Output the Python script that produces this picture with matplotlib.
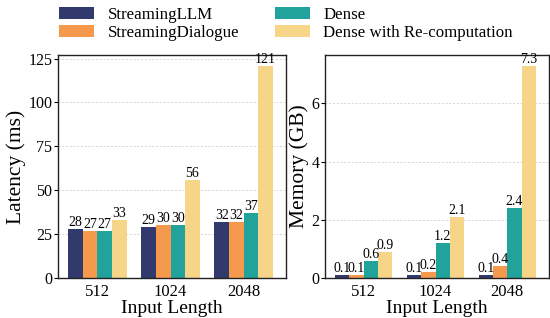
import numpy as np
import matplotlib
matplotlib.use("Agg")
import matplotlib.pyplot as plt

plt.rcParams['font.family'] = ['Liberation Serif', 'DejaVu Serif']

# data
input_lengths = ['512', '1024', '2048']
methods = ['StreamingLLM', 'StreamingDialogue', 'Dense', 'Dense with Re-computation']
colors = ['#323a6d', '#f5994d', '#21a29b', '#f6d488']

latency = [
    [28, 29, 32],    # StreamingLLM
    [27, 30, 32],    # StreamingDialogue
    [27, 30, 37],    # Dense
    [33, 56, 121],   # Dense with Re-computation
]
memory = [
    [0.1, 0.1, 0.1],
    [0.1, 0.2, 0.4],
    [0.6, 1.2, 2.4],
    [0.9, 2.1, 7.3],
]

latency_ticks = [0, 25, 50, 75, 100, 125]
memory_ticks = [0, 2, 4, 6]

fig = plt.figure(figsize=(5.5, 3.18), dpi=100)
ax1 = fig.add_axes([0.1055, 0.1258, 0.4145, 0.7012])
ax2 = fig.add_axes([0.591, 0.1258, 0.407, 0.7012])

x = np.arange(len(input_lengths))
width = 0.2


def draw_panel(ax, values, ylabel, fmt, yticks):
    for i, (name, vals) in enumerate(zip(methods, values)):
        bars = ax.bar(x + i * width, vals, width, color=colors[i], label=name, zorder=2)
        ax.bar_label(bars, labels=[fmt.format(v) for v in vals], padding=0, fontsize=10)
    ax.set_xticks(x + 1.5 * width)
    ax.set_xticklabels(input_lengths, fontsize=12)
    ax.set_yticks(yticks)
    ax.tick_params(axis='y', labelsize=11.5, length=3, pad=1)
    ax.tick_params(axis='x', length=0, pad=4)
    ax.set_ylim(0, max(max(v) for v in values) * 1.05)
    ax.set_xlim(-0.24, 2.88)
    ax.set_xlabel('Input Length', fontsize=14, labelpad=0)
    ax.set_ylabel(ylabel, fontsize=15.5, labelpad=2)
    ax.grid(axis='y', linestyle=(0, (2.5, 2)), color='#d2d2d2', linewidth=0.6, zorder=0)
    ax.set_axisbelow(True)
    for s in ax.spines.values():
        s.set_color('#222222')
        s.set_linewidth(1.0)


draw_panel(ax1, latency, 'Latency (ms)', '{:.0f}', latency_ticks)
draw_panel(ax2, memory, 'Memory (GB)', '{:.1f}', memory_ticks)

handles, labels = ax1.get_legend_handles_labels()
fig.legend(handles, labels, loc='upper center', bbox_to_anchor=(0.52, 1.025), ncol=2,
           frameon=False, fontsize=12.2, handlelength=2.05, handleheight=0.7,
           handletextpad=0.8, columnspacing=2.1, labelspacing=0.1)

fig.savefig('out.png', dpi=100)
